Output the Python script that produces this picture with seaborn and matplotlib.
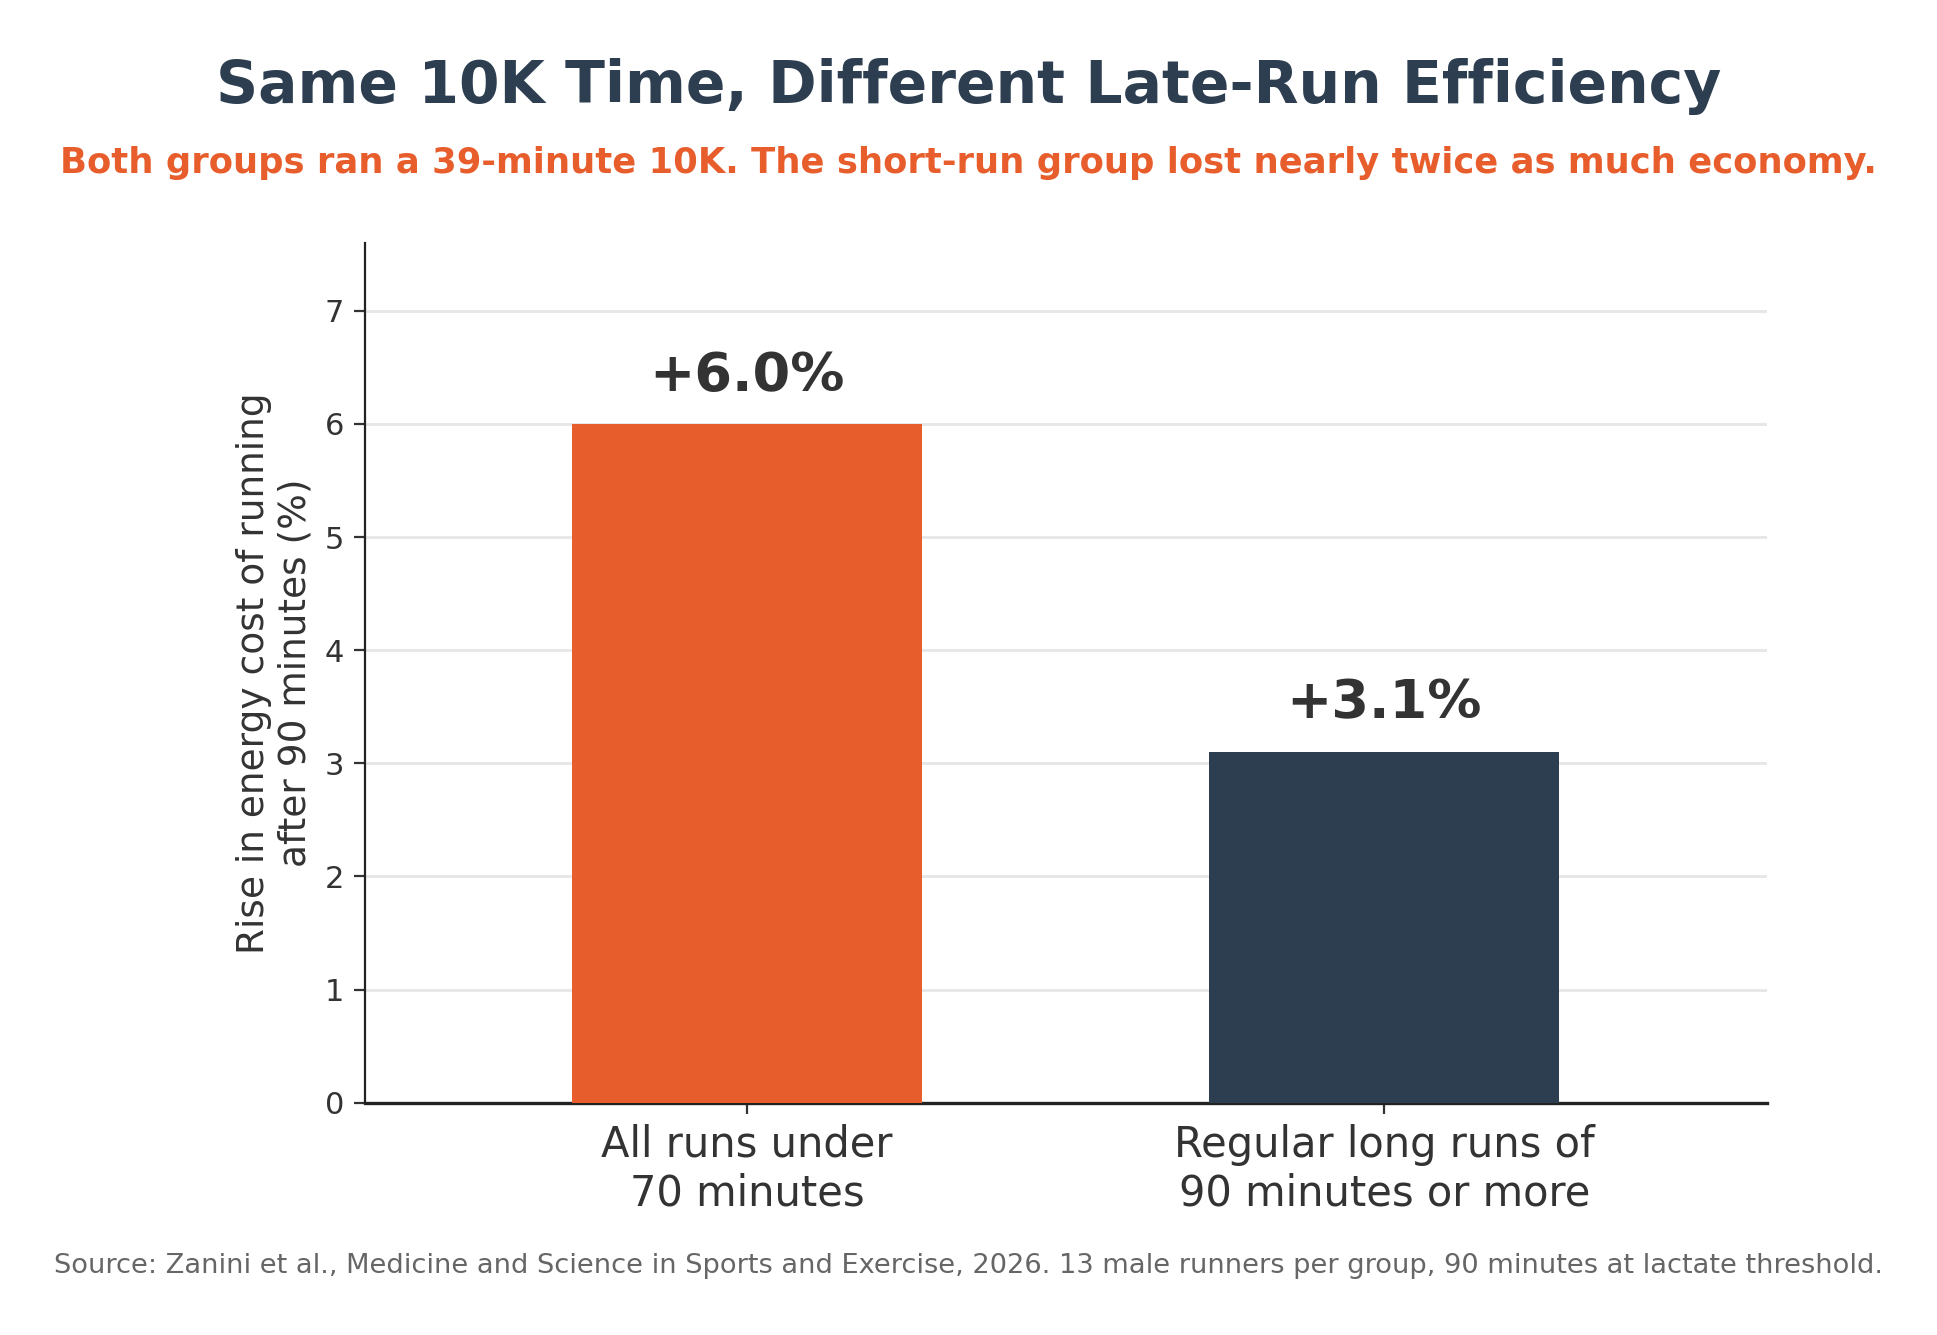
import numpy as np
import pandas as pd
import seaborn as sns
from matplotlib import pyplot as plt

# data
groups = ["All runs under\n70 minutes", "Regular long runs of\n90 minutes or more"]
rise_pct = [6.0, 3.1]
bar_labels = ["+6.0%", "+3.1%"]
bar_colors = ["#E85D2C", "#2C3E50"]

title = "Same 10K Time, Different Late-Run Efficiency"
subtitle = "Both groups ran a 39-minute 10K. The short-run group lost nearly twice as much economy."
source = ("Source: Zanini et al., Medicine and Science in Sports and Exercise, 2026. "
          "13 male runners per group, 90 minutes at lactate threshold.")
ylabel = "Rise in energy cost of running\nafter 90 minutes (%)"

df = pd.DataFrame({"group": groups, "rise": rise_pct})

sns.set_style("white")
plt.rcParams["font.family"] = ["DejaVu Sans"]

fig, ax = plt.subplots(figsize=(9.685, 6.675), dpi=200)
fig.subplots_adjust(left=0.1884, right=0.912, bottom=0.174, top=0.818)

sns.barplot(
    data=df, x="group", y="rise", hue="group",
    palette=dict(zip(groups, bar_colors)), width=0.55,
    legend=False, saturation=1, linewidth=0, ax=ax, zorder=3,
)

for i, (v, lab) in enumerate(zip(rise_pct, bar_labels)):
    ax.annotate(lab, (i, v), xytext=(0, 8), textcoords="offset points",
                ha="center", va="bottom", fontsize=19.5, fontweight="bold",
                color="#333333")

ax.set_xlim(-0.6, 1.6)
ax.set_ylim(0, 7.6)
ax.set_yticks(range(0, 8))
ax.yaxis.grid(True, color="#e6e6e6", linewidth=1)
ax.set_axisbelow(True)

sns.despine(ax=ax)
ax.spines["left"].set_color("#222222")
ax.spines["bottom"].set_color("#222222")
ax.spines["left"].set_linewidth(0.8)
ax.spines["bottom"].set_linewidth(1.2)

ax.tick_params(axis="y", labelsize=11, colors="#333333", length=4, width=0.8, left=True)
ax.tick_params(axis="x", labelsize=15, colors="#333333", length=4, width=0.8, bottom=True)
ax.set_xlabel("")
ax.set_ylabel(ylabel, fontsize=13.5, color="#333333")

fig.text(0.5, 0.935, title, ha="center", va="center", fontsize=21,
         fontweight="bold", color="#2C3E50")
fig.text(0.5, 0.878, subtitle, ha="center", va="center", fontsize=12.75,
         fontweight="bold", color="#E85D2C")
fig.text(0.5, 0.052, source, ha="center", va="center", fontsize=9.8,
         color="#666666")

fig.savefig("out.png", dpi=200)
